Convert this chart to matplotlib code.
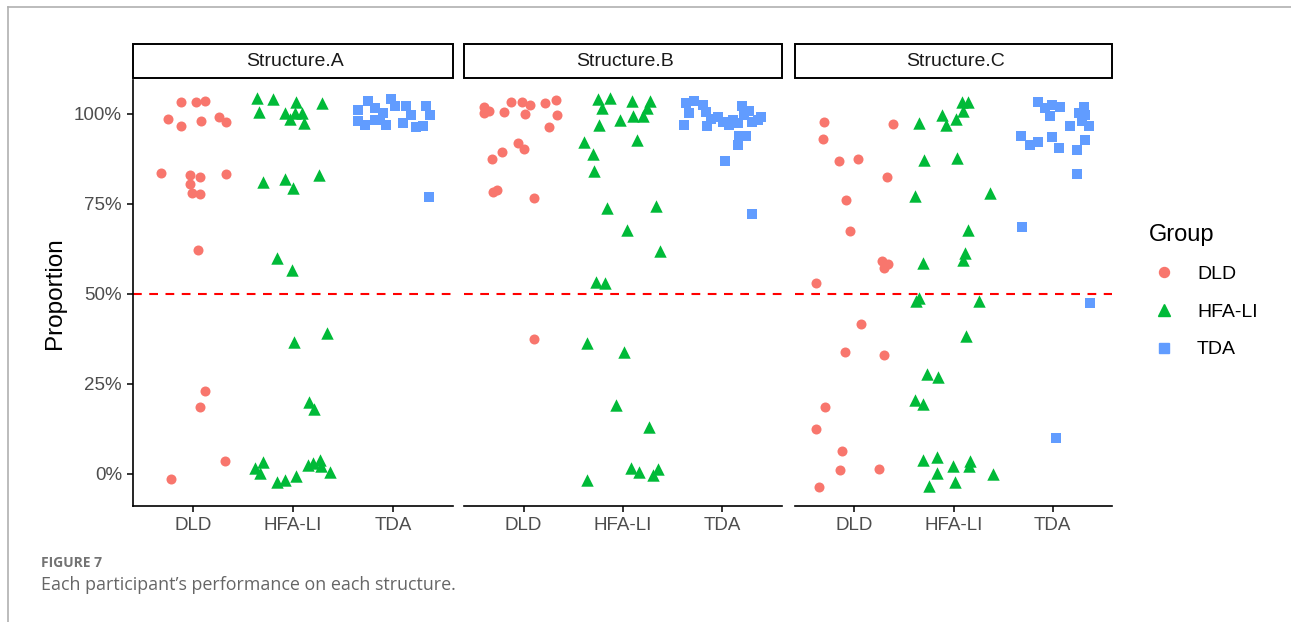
import numpy as np
import matplotlib
matplotlib.use("Agg")
import matplotlib.pyplot as plt
from matplotlib.lines import Line2D
from matplotlib.patches import Rectangle

plt.rcParams['font.family'] = ['Liberation Sans', 'DejaVu Sans']

# ---- data (jitter offset from category centre, proportion correct) ----
groups = ["DLD", "HFA-LI", "TDA"]
structures = ["Structure.A", "Structure.B", "Structure.C"]

a_dld_dx = [-0.12, 0.03, 0.12, -0.25, -0.12, 0.08, 0.26, 0.33, -0.32, -0.03, 0.07, 0.33, -0.03, -0.01, 0.07, 0.05, 0.12, 0.07, 0.32, -0.22]
a_dld_y = [1.034, 1.034, 1.037, 0.986, 0.967, 0.979, 0.991, 0.976, 0.835, 0.829, 0.825, 0.832, 0.806, 0.780, 0.777, 0.623, 0.231, 0.187, 0.035, -0.013]
a_hfa_dx = [-0.36, -0.20, 0.03, 0.29, -0.34, -0.08, -0.03, 0.02, 0.09, 0.11,
            -0.30, -0.08, 0.00, 0.26, -0.16, -0.01, 0.34, 0.01, 0.16, 0.21,
            -0.38, -0.30, -0.33, -0.16, -0.08, 0.03, 0.15, 0.20, 0.27, 0.28, 0.37]
a_hfa_y = [1.043, 1.042, 1.033, 1.029, 1.006, 1.003, 0.987, 1.003, 1.003, 0.975,
           0.812, 0.819, 0.793, 0.831, 0.599, 0.567, 0.391, 0.366, 0.201, 0.180,
           0.016, 0.034, 0.002, -0.021, -0.017, -0.007, 0.025, 0.030, 0.039, 0.023, 0.006]
a_tda_dx = [-0.35, -0.35, -0.25, -0.18, -0.18, -0.28, -0.07, -0.02, 0.02, -0.10, 0.13, 0.18, 0.10, 0.23, 0.30, 0.33, 0.37, -0.13, 0.36]
a_tda_y = [1.012, 0.980, 1.035, 1.017, 0.984, 0.968, 0.968, 1.040, 1.021, 1.003, 1.021, 0.998, 0.975, 0.963, 0.966, 1.021, 0.998, 0.982, 0.769]

b_dld_dx = [-0.40, -0.35, -0.40, -0.20, -0.13, -0.02, 0.06, 0.01, 0.22, 0.33, 0.34, 0.26, -0.06, 0.00, -0.22, -0.32, -0.31, -0.27, 0.10, 0.10]
b_dld_y = [1.020, 1.009, 1.002, 1.005, 1.034, 1.034, 1.025, 0.999, 1.030, 1.039, 0.997, 0.964, 0.918, 0.903, 0.893, 0.874, 0.784, 0.789, 0.765, 0.375]
b_hfa_dx = [-0.25, -0.21, -0.13, 0.09, 0.27, 0.24, 0.20, 0.10, -0.03, -0.24, 0.14, -0.39, -0.30, -0.29,
            -0.16, 0.33, 0.04, 0.37, -0.27, -0.18, -0.36, 0.01, -0.07, 0.26, 0.08, 0.16, 0.30, 0.35, -0.36]
b_hfa_y = [1.040, 1.015, 1.043, 1.035, 1.035, 1.015, 0.993, 0.993, 0.982, 0.970, 0.926, 0.922, 0.889, 0.841,
           0.738, 0.743, 0.678, 0.618, 0.534, 0.531, 0.363, 0.338, 0.192, 0.131, 0.016, 0.006, -0.003, 0.013, -0.017]
b_tda_dx = [-0.37, -0.29, -0.34, -0.20, -0.16, -0.11, -0.04, 0.01, 0.07, 0.11, 0.16, 0.20, 0.22, 0.27, 0.30, 0.36, 0.39, -0.39, -0.15, 0.17, 0.24, 0.16, 0.03, 0.30]
b_tda_y = [1.031, 1.035, 1.003, 1.024, 1.006, 0.987, 0.991, 0.978, 0.968, 0.984, 0.975, 1.021, 0.998, 1.009, 0.978, 0.984, 0.991, 0.968, 0.966, 0.938, 0.938, 0.913, 0.870, 0.722]

c_dld_dx = [-0.31, 0.39, -0.32, -0.16, 0.04, 0.33, -0.09, -0.04, 0.28, 0.34, 0.30, -0.39, 0.07, -0.10, 0.30, -0.30, -0.39, -0.13, -0.15, 0.25, -0.36]
c_dld_y = [0.976, 0.971, 0.930, 0.868, 0.874, 0.824, 0.761, 0.676, 0.592, 0.582, 0.571, 0.530, 0.417, 0.340, 0.330, 0.187, 0.124, 0.063, 0.011, 0.014, -0.035]
c_hfa_dx = [0.09, 0.15, 0.10, 0.03, -0.12, -0.08, -0.35, -0.30, 0.04, -0.39, 0.37, 0.15, 0.12, 0.10, -0.31, -0.35, -0.38, 0.26, 0.13, -0.27, -0.16, -0.39, -0.31,
            -0.31, -0.17, -0.01, 0.17, 0.16, -0.17, 0.02, -0.25, 0.40]
c_hfa_y = [1.034, 1.034, 1.007, 0.985, 0.997, 0.969, 0.974, 0.872, 0.877, 0.772, 0.781, 0.678, 0.613, 0.594, 0.585, 0.488, 0.481, 0.481, 0.384, 0.277, 0.270, 0.206, 0.194,
           0.039, 0.046, 0.022, 0.037, 0.022, 0.002, -0.021, -0.033, 0.000]
c_tda_dx = [-0.15, -0.08, -0.01, 0.08, -0.03, 0.32, 0.33, 0.27, 0.18, 0.37, -0.32, -0.23, -0.15, -0.01, 0.06, 0.25, 0.33, 0.25, -0.31, 0.38, 0.03, 0.30]
c_tda_y = [1.034, 1.016, 1.025, 1.019, 0.993, 1.020, 0.997, 1.002, 0.967, 0.965, 0.939, 0.914, 0.923, 0.935, 0.905, 0.900, 0.926, 0.832, 0.687, 0.474, 0.101, 0.980]

panels = [
    [(a_dld_dx, a_dld_y), (a_hfa_dx, a_hfa_y), (a_tda_dx, a_tda_y)],
    [(b_dld_dx, b_dld_y), (b_hfa_dx, b_hfa_y), (b_tda_dx, b_tda_y)],
    [(c_dld_dx, c_dld_y), (c_hfa_dx, c_hfa_y), (c_tda_dx, c_tda_y)],
]

colors = ["#F8766D", "#00BA38", "#619CFF"]
markers = ["o", "^", "s"]
sizes = [52, 80, 52]

W, H = 1291, 622
fig = plt.figure(figsize=(W / 100, H / 100), dpi=100)

# panel boxes in pixels (left, right)
lefts = [133, 464, 795]
rights = [453, 782, 1112]
top, bottom = 80, 506

for i, (l, r) in enumerate(zip(lefts, rights)):
    ax = fig.add_axes([l / W, (H - bottom) / H, (r - l) / W, (bottom - top) / H])
    for j, (dx, y) in enumerate(panels[i]):
        ax.scatter(j + 1 + np.array(dx), y, s=sizes[j], marker=markers[j],
                   color=colors[j], linewidths=0, zorder=3)
    ax.axhline(0.5, color="#FF0000", lw=1.5, dashes=(4.2, 3.6), zorder=2)
    ax.set_xlim(0.4, 3.6)
    ax.set_ylim(-0.089, 1.094)
    ax.set_xticks([1, 2, 3])
    ax.set_xticklabels(groups)
    ax.set_yticks([0, 0.25, 0.5, 0.75, 1.0])
    ax.set_yticklabels(["0%", "25%", "50%", "75%", "100%"])
    for s in ["top", "right"]:
        ax.spines[s].set_visible(False)
    ax.spines["bottom"].set_linewidth(1.2)
    ax.spines["left"].set_linewidth(1.2)
    ax.tick_params(colors="#4D4D4D", labelsize=13.5, length=4, width=1.1, pad=4)
    ax.tick_params(axis="both", color="black")
    if i > 0:
        ax.spines["left"].set_visible(False)
        ax.tick_params(axis="y", left=False, labelleft=False)

    # strip
    fig.add_artist(Rectangle((l / W, (H - 78) / H), (r - l) / W, 34 / H,
                             transform=fig.transFigure, facecolor="white",
                             edgecolor="black", lw=1.4))
    fig.text((l + r) / 2 / W + 2 / W, (H - 61) / H, structures[i], ha="center", va="center",
             fontsize=14, color="#1A1A1A")

fig.text(55 / W, (H - 293) / H, "Proportion", rotation=90, ha="center", va="center",
         fontsize=17.5)

handles = [Line2D([], [], linestyle="none", marker=markers[k], color=colors[k],
                  markersize=[7.2, 9.0, 7.2][k]) for k in range(3)]
leg = fig.legend(handles, groups, title="Group", loc="upper left",
                 bbox_to_anchor=(1131 / W, (H - 206) / H), frameon=False,
                 fontsize=14, title_fontsize=17, labelspacing=1.03,
                 handletextpad=0.9, handlelength=1.6, alignment="left")

# figure frame and caption
fig.add_artist(Line2D([8 / W, 1], [(H - 7) / H, (H - 7) / H], color="#B0B0B0", lw=1.2))
fig.add_artist(Line2D([8 / W, 8 / W], [0, (H - 7) / H], color="#B0B0B0", lw=1.2))
fig.text(41 / W, (H - 563) / H, "FIGURE 7", fontsize=10, fontweight="bold",
         color="#737373", family="Open Sans", va="center")
fig.text(41 / W, (H - 585) / H, "Each participant\u2019s performance on each structure.",
         fontsize=12.9, color="#666666", family="Open Sans", va="center")

fig.savefig("out.png", dpi=100)
